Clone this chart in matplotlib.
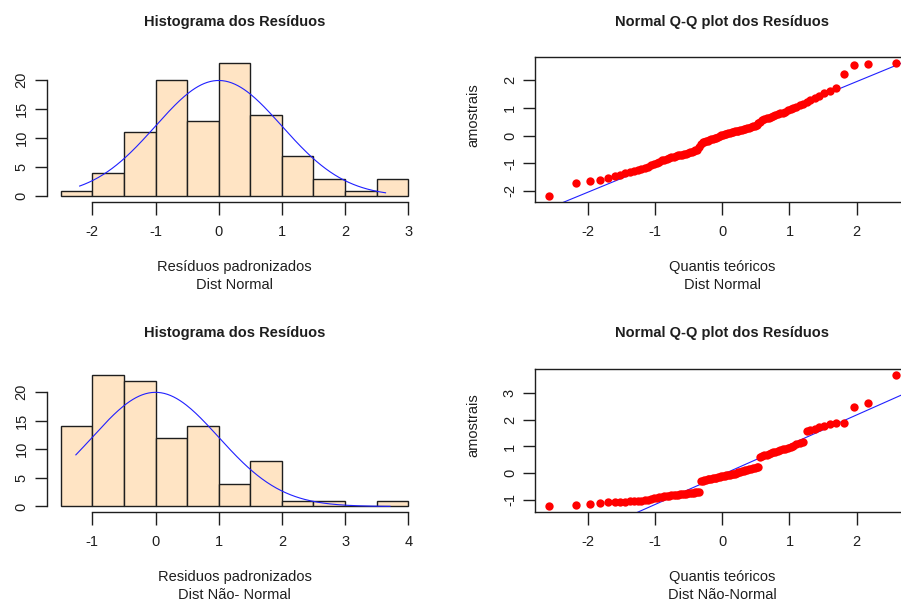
import numpy as np
import matplotlib
matplotlib.use("Agg")
import matplotlib.pyplot as plt
from statistics import NormalDist

plt.rcParams['font.family'] = ['Liberation Sans', 'DejaVu Sans']
plt.rcParams['axes.unicode_minus'] = False

# Standardised residuals of the two fitted models
res_normal = [
    -2.20, -1.73, -1.65, -1.60, -1.53, -1.45, -1.41, -1.37, -1.33, -1.29,
    -1.25, -1.21, -1.17, -1.13, -1.08, -1.03, -0.98, -0.94, -0.90, -0.87,
    -0.83, -0.80, -0.78, -0.76, -0.74, -0.72, -0.70, -0.69, -0.67, -0.65,
    -0.63, -0.61, -0.58, -0.56, -0.54, -0.51, -0.40, -0.30, -0.25, -0.22,
    -0.20, -0.18, -0.16, -0.14, -0.11, -0.09, -0.07, -0.05, -0.02, 0.01,
    0.03, 0.05, 0.07, 0.09, 0.10, 0.12, 0.13, 0.15, 0.16, 0.18,
    0.20, 0.21, 0.23, 0.25, 0.27, 0.29, 0.31, 0.33, 0.36, 0.40,
    0.45, 0.49, 0.55, 0.59, 0.62, 0.65, 0.68, 0.71, 0.74, 0.77,
    0.80, 0.83, 0.87, 0.91, 0.95, 0.99, 1.04, 1.09, 1.15, 1.22,
    1.30, 1.37, 1.44, 1.55, 1.62, 1.73, 2.24, 2.57, 2.58, 2.64,
]
res_nao_normal = [
    -1.26, -1.20, -1.15, -1.13, -1.11, -1.10, -1.09, -1.08, -1.07, -1.06,
    -1.05, -1.04, -1.02, -1.01, -0.98, -0.96, -0.94, -0.92, -0.90, -0.88,
    -0.86, -0.85, -0.84, -0.83, -0.83, -0.82, -0.81, -0.80, -0.79, -0.78,
    -0.77, -0.76, -0.75, -0.74, -0.73, -0.72, -0.70, -0.30, -0.29, -0.27,
    -0.26, -0.24, -0.23, -0.22, -0.20, -0.19, -0.17, -0.16, -0.15, -0.13,
    -0.12, -0.10, -0.09, -0.08, -0.06, -0.05, -0.04, -0.02, -0.01, 0.02,
    0.04, 0.06, 0.08, 0.10, 0.12, 0.14, 0.16, 0.18, 0.20, 0.22,
    0.23, 0.62, 0.64, 0.66, 0.69, 0.72, 0.75, 0.78, 0.80, 0.83,
    0.86, 0.89, 0.92, 0.95, 0.98, 1.03, 1.08, 1.12, 1.17, 1.60,
    1.63, 1.66, 1.72, 1.78, 1.85, 1.87, 1.90, 2.49, 2.64, 3.71,
]

hist_title = "Histograma dos Resíduos"
qq_title = "Normal Q-Q plot dos Resíduos"
hist_xlabels = ["Resíduos padronizados", "Residuos padronizados"]
hist_sublabels = ["Dist Normal", "Dist Não- Normal"]
qq_xlabel = "Quantis teóricos"
qq_sublabels = ["Dist Normal", "Dist Não-Normal"]
qq_ylabel = "amostrais"
hist_yticks = [0, 5, 10, 15, 20]
bin_width = 0.5

W, H = 901, 603
fig = plt.figure(figsize=(W / 100, H / 100), dpi=100)

INK = "#1e1e1e"
FS = 10.5


def rect(l, t, r, b):
    return [l / W, 1 - b / H, (r - l) / W, (b - t) / H]


def ftext(x, y, s, **kw):
    kw.setdefault("ha", "center")
    kw.setdefault("va", "center")
    kw.setdefault("fontsize", FS)
    kw.setdefault("color", INK)
    fig.text(x / W, 1 - y / H, s, **kw)


def style_ticks(ax):
    ax.tick_params(axis="both", direction="out", length=9, width=1.0,
                   color=INK, labelcolor=INK, labelsize=FS)
    ax.tick_params(axis="x", pad=8)
    ax.tick_params(axis="y", pad=4, labelrotation=90)
    for lab in ax.get_yticklabels():
        lab.set_va("center")


def hist_panel(box, data, xlabel, sub, title_y, label_y):
    data = np.asarray(data)
    ax = fig.add_axes(rect(*box))
    lo = np.floor(data.min() / bin_width) * bin_width
    hi = np.ceil(data.max() / bin_width) * bin_width
    edges = np.arange(lo, hi + bin_width / 2, bin_width)
    counts, _, _ = ax.hist(data, bins=edges, color="#FFE4C4",
                           edgecolor=INK, linewidth=1.0)
    xs = np.linspace(data.min(), data.max(), 200)
    dens = np.exp(-xs ** 2 / 2) / np.sqrt(2 * np.pi)
    ax.plot(xs, len(data) * bin_width * dens, color="#2020ff", lw=0.8)
    span = edges[-1] - edges[0]
    ax.set_xlim(edges[0] - 0.04 * span, edges[-1] + 0.04 * span)
    top = counts.max()
    ax.set_ylim(-0.04 * top, top * 1.04)
    xt = np.arange(np.ceil(edges[0]), np.floor(edges[-1]) + 1)
    ax.set_xticks(xt)
    ax.set_xticklabels([f"{int(v)}" for v in xt])
    ax.set_yticks(hist_yticks)
    for s in ("top", "right"):
        ax.spines[s].set_visible(False)
    ax.spines["bottom"].set_bounds(xt[0], xt[-1])
    ax.spines["left"].set_bounds(hist_yticks[0], hist_yticks[-1])
    for s in ("bottom", "left"):
        ax.spines[s].set_color(INK)
        ax.spines[s].set_linewidth(1.0)
    style_ticks(ax)
    cx = (box[0] + box[2]) / 2
    ftext(cx, title_y, hist_title, fontweight="bold")
    ftext(cx, label_y, xlabel)
    ftext(cx, label_y + 18, sub)
    return ax


def qq_panel(box, data, sub, yticks, title_y, label_y, ylab_xy):
    y = np.sort(np.asarray(data))
    n = len(y)
    nd = NormalDist()
    q = np.array([nd.inv_cdf((i - 0.5) / n) for i in range(1, n + 1)])
    ax = fig.add_axes(rect(*box))
    ax.plot(q, y, "o", color="#ff0000", markersize=6.0,
            markeredgewidth=0, zorder=3)
    # reference line through the quartiles
    q1, q3 = np.quantile(y, [0.25, 0.75])
    z1, z3 = nd.inv_cdf(0.25), nd.inv_cdf(0.75)
    slope = (q3 - q1) / (z3 - z1)
    icpt = q1 - slope * z1
    xr = q.max() - q.min()
    yr = y.max() - y.min()
    xlim = (q.min() - 0.04 * xr, q.max() + 0.04 * xr)
    ax.set_xlim(*xlim)
    ax.set_ylim(y.min() - 0.04 * yr, y.max() + 0.04 * yr)
    lx = np.array(xlim)
    ax.plot(lx, icpt + slope * lx, color="#2020ff", lw=0.8, zorder=2)
    ax.set_xticks([-2, -1, 0, 1, 2])
    ax.set_yticks(yticks)
    for s in ax.spines.values():
        s.set_color(INK)
        s.set_linewidth(1.0)
    style_ticks(ax)
    cx = (box[0] + box[2]) / 2
    ftext(cx, title_y, qq_title, fontweight="bold")
    ftext(cx, label_y, qq_xlabel)
    ftext(cx, label_y + 18, sub)
    ftext(ylab_xy[0], ylab_xy[1], qq_ylabel, rotation=90)
    return ax


hist_panel((46.8, 57.4, 422.2, 201.7), res_normal,
           hist_xlabels[0], hist_sublabels[0], 22, 267)
qq_panel((535, 57.3, 909.4, 201.7), res_normal, qq_sublabels[0],
         [-2, -1, 0, 1, 2], 22, 267, (473, 115))
hist_panel((46.8, 369.6, 422.2, 511.7), res_nao_normal,
           hist_xlabels[1], hist_sublabels[1], 333, 577)
qq_panel((535, 369.3, 909.4, 511.7), res_nao_normal, qq_sublabels[1],
         [-1, 0, 1, 2, 3], 333, 577, (473, 425))

fig.savefig("out.png", dpi=100, facecolor="white")
